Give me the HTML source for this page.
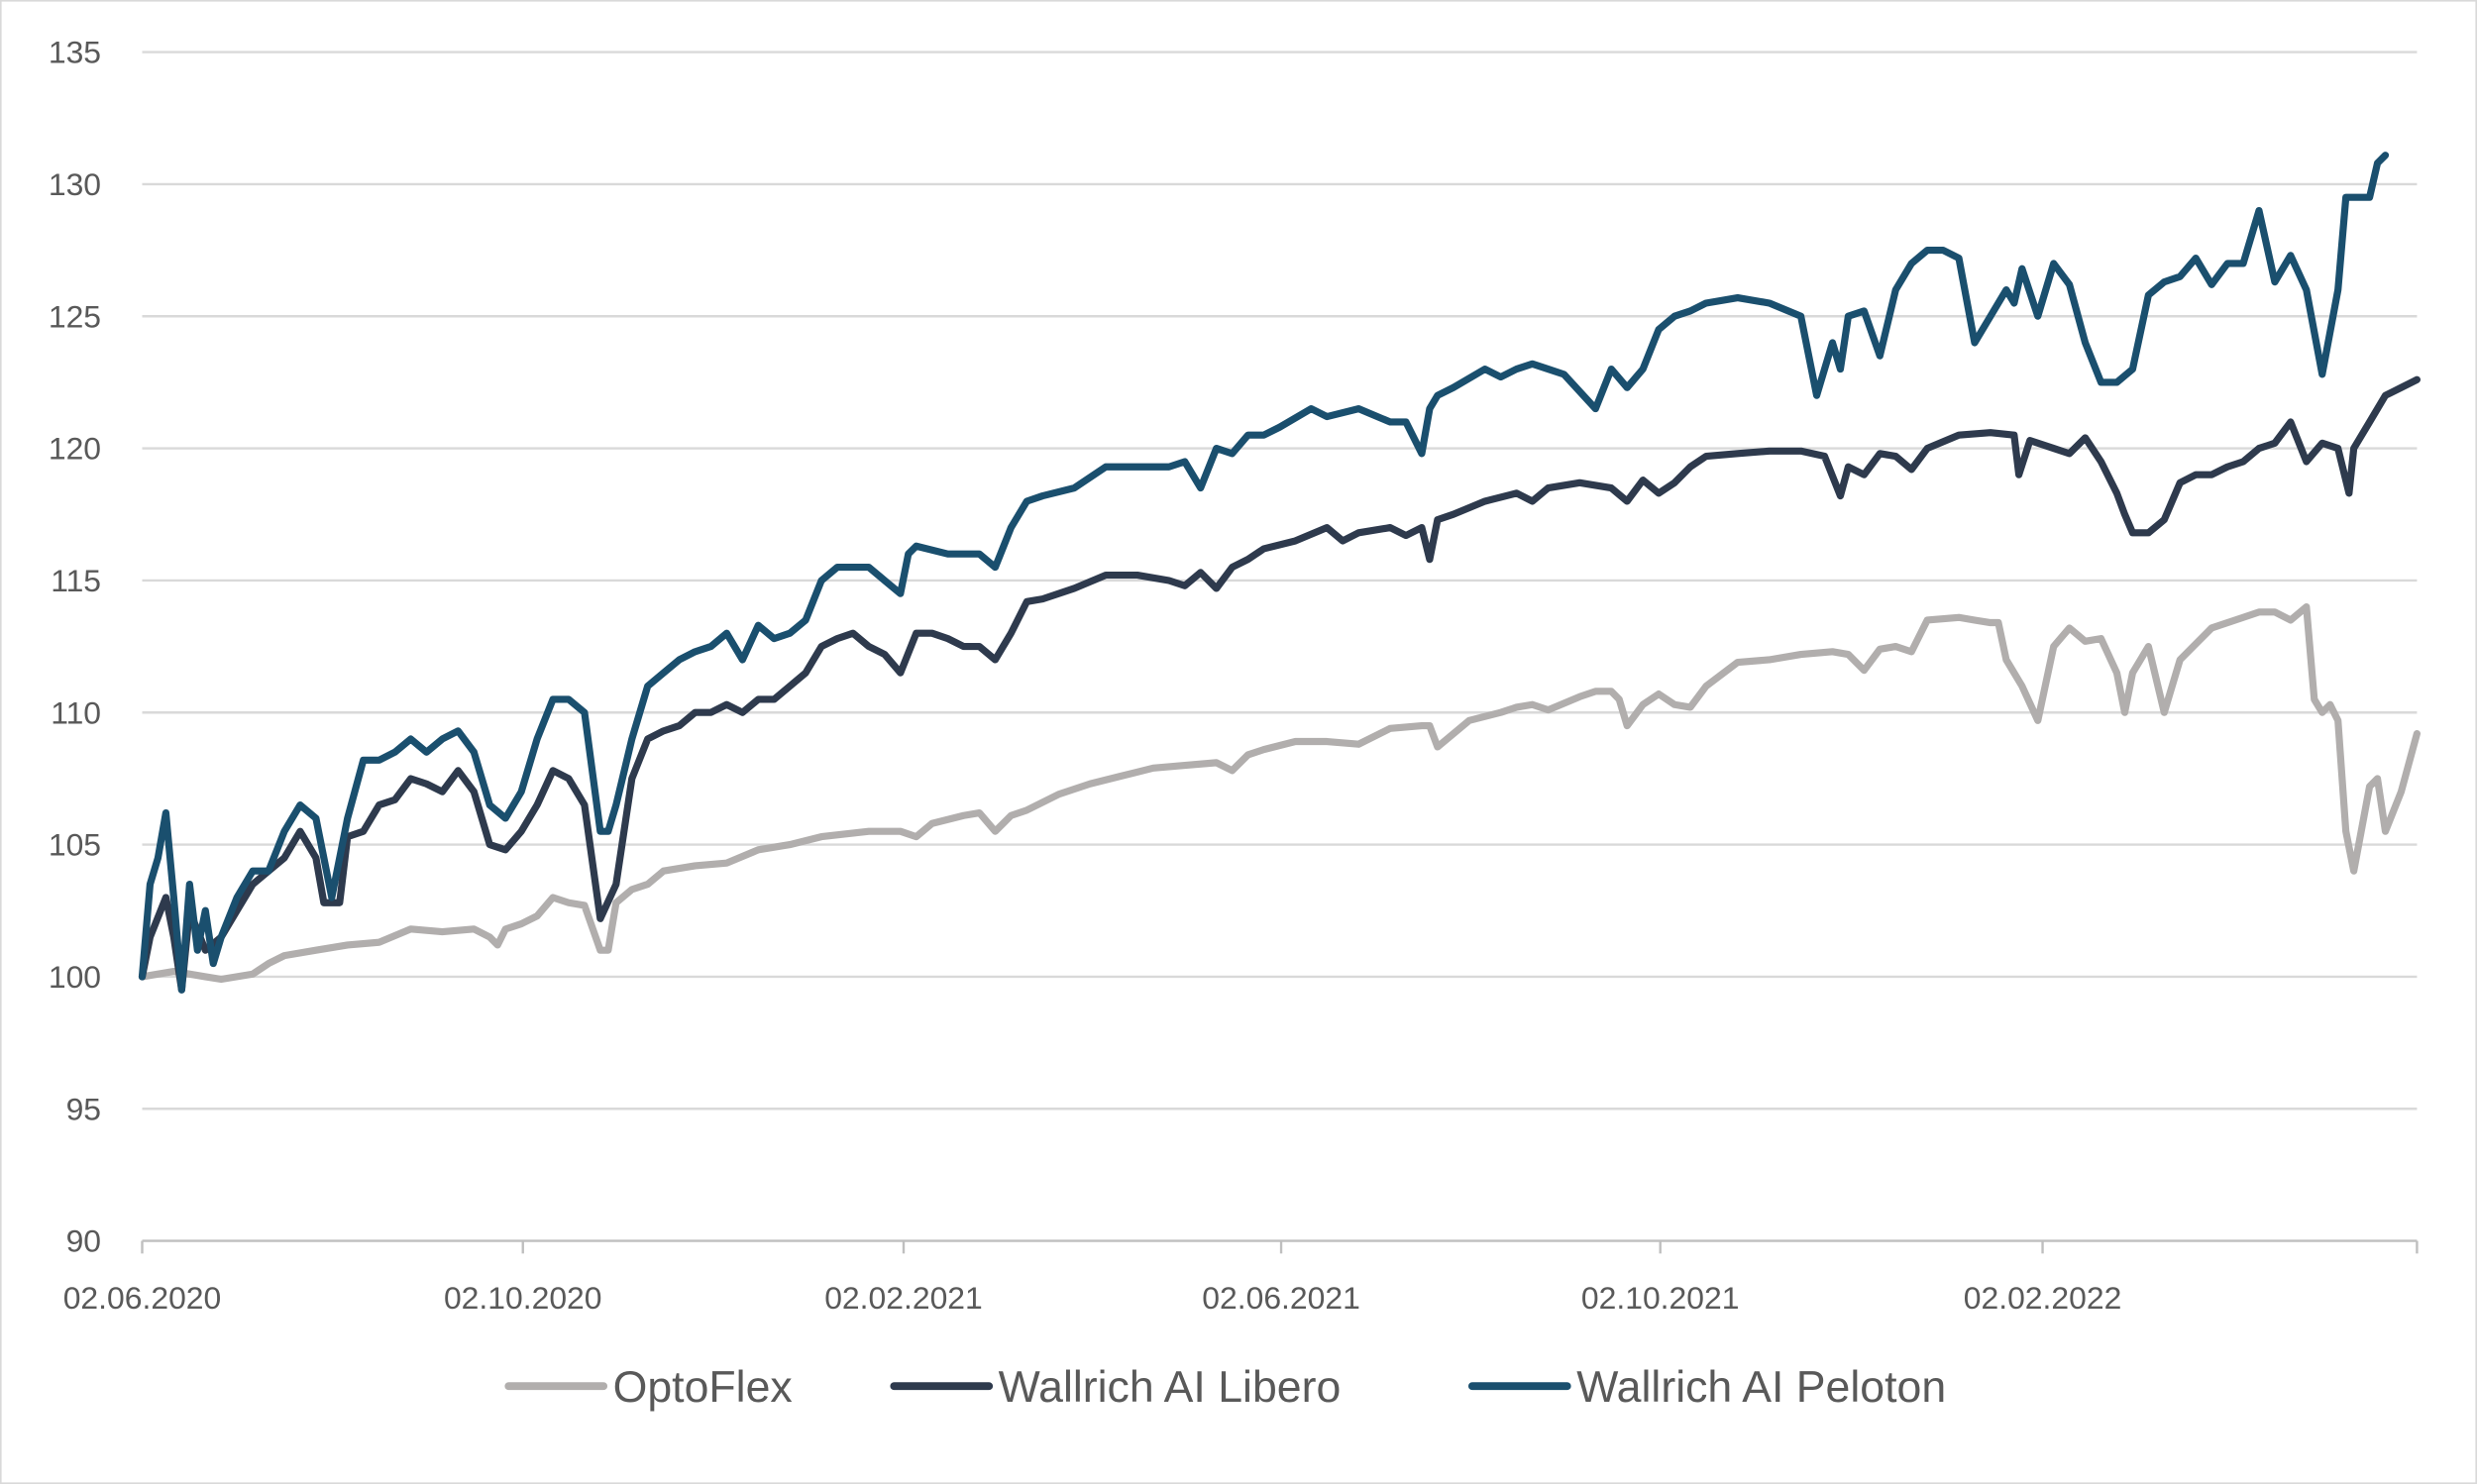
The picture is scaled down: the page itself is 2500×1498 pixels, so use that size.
<!DOCTYPE html>
<html><head><meta charset="utf-8"><style>
html,body{margin:0;padding:0;background:#fff;}
svg{display:block;}
text{font-family:"Liberation Sans",sans-serif;}
</style></head><body>
<svg id="chart" width="2500" height="1498" viewBox="0 0 1568 940" preserveAspectRatio="none" xmlns="http://www.w3.org/2000/svg">
<rect x="0.5" y="0.5" width="1567" height="939" fill="#fff" stroke="#d9d9d9" stroke-width="1"/>
<g id="grid"></g>
<g id="yticks"></g>
<g id="xaxis"></g>
<g id="series"></g>
<g id="legend"></g>
</svg>
<script>
// x in "days" since 02.06.2020 (approx), domain 0..720
const xTickPos = [0, 120.5, 241, 360.5, 480.5, 601.5];
const xTickLabels = ["02.06.2020","02.10.2020","02.02.2021","02.06.2021","02.10.2021","02.02.2022"];
const yTicks = [90,95,100,105,110,115,120,125,130,135];
const seriesNames = ["OptoFlex","Wallrich AI Libero","Wallrich AI Peloton"];
const seriesColors = ["#b1aead","#2e3a4d","#1a4f6e"];

const pelotonT = [0,2.5,5,7.5,10,12.5,15,17.5,20,22.5,25,30,35,40,45,50,55,60,65,70,75,80,85,90,95,100,105,110,115,120,125,130,135,140,145,147.5,150,155,160,165,170,175,180,185,190,195,200,205,210,215,220,225,230,235,240,242.5,245,255,265,270,275,280,285,295,305,315,325,330,335,340,345,350,355,360,370,375,385,395,400,405,407.5,410,415,425,430,435,440,445,450,460,465,470,475,480,485,490,495,505,515,525,530,535,537.5,540,545,550,555,560,565,570,575,580,590,592.5,595,600,605,610,615,620,625,630,635,640,645,650,655,660,665,670,675,680,685,690,695,697.5,700,705,707.5,710,715,720];
const pelotonV = [100,103.5,104.5,106.2,103,99.5,103.5,101,102.5,100.5,101.5,103,104,104,105.5,106.5,106,103,106,108.2,108.2,108.5,109,108.5,109,109.3,108.5,106.5,106,107,109,110.5,110.5,110,105.5,105.5,106.5,109,111,111.5,112,112.3,112.5,113,112,113.3,112.8,113,113.5,115,115.5,115.5,115.5,115,114.5,116,116.3,116,116,115.5,117,118,118.2,118.5,119.3,119.3,119.3,119.5,118.5,120,119.8,120.5,120.5,120.8,121.5,121.2,121.5,121,121,119.8,121.5,122,122.3,123,122.7,123,123.2,123,122.8,121.5,123,122.3,123,124.5,125,125.2,125.5,125.7,125.5,125,122,124,123,125,125.2,123.5,126,127,127.5,127.5,127.2,124,126,125.5,126.8,125,127,126.2,124,122.5,122.5,123,125.8,126.3,126.5,127.2,126.2,127,127,129,126.3,127.3,126,122.8,126,129.5,129.5,129.5,130.8,131.1];

const liberoT = [0,2.5,7.5,10,12.5,15,20,25,30,35,40,45,50,55,57.5,62.5,65,70,75,80,85,90,95,100,105,110,115,120,125,130,135,140,145,150,155,160,165,170,175,180,185,190,195,200,205,210,215,220,225,230,235,240,245,250,255,260,265,270,275,280,285,295,305,315,325,330,335,340,345,350,355,365,375,380,385,395,400,405,407.5,410,415,425,435,440,445,455,465,470,475,480,485,490,495,505,515,525,532.5,537.5,540,545,550,555,560,565,575,585,592.5,594,597.5,605,610,615,620,625,627.5,630,635,640,645,650,655,660,665,670,675,680,685,690,695,698.5,700,705,710,715,720];
const liberoV = [100,101.5,103,101.5,99.5,102.5,101,101.5,102.5,103.5,104,104.5,105.5,104.5,102.8,102.8,105.3,105.5,106.5,106.7,107.5,107.3,107,107.8,107,105,104.8,105.5,106.5,107.8,107.5,106.5,102.2,103.5,107.5,109,109.3,109.5,110,110,110.3,110,110.5,110.5,111,111.5,112.5,112.8,113,112.5,112.2,111.5,113,113,112.8,112.5,112.5,112,113,114.2,114.3,114.7,115.2,115.2,115,114.8,115.3,114.7,115.5,115.8,116.2,116.5,117,116.5,116.8,117,116.7,117,115.8,117.3,117.5,118,118.3,118,118.5,118.7,118.5,118,118.8,118.3,118.7,119.3,119.7,119.8,119.9,119.9,119.7,118.2,119.3,119,119.8,119.7,119.2,120,120.5,120.6,120.5,119,120.3,120,119.8,120.4,119.5,118.3,117.5,116.8,116.8,117.3,118.7,119,119,119.3,119.5,120,120.2,121,119.5,120.2,120,118.3,120,121,122,122.3,122.6];

const optoT = [0,10,20,25,35,40,45,55,65,75,85,95,105,110,112.5,115,120,125,130,135,140,145,147.5,150,155,160,165,175,185,195,205,215,230,235,240,245,250,260,265,270,275,280,290,300,310,320,330,340,345,350,355,365,375,385,395,405,407.5,410,420,430,435,440,445,455,460,465,467.5,470,475,480,485,490,495,505,515,525,535,540,545,550,555,560,565,575,580,585,587.5,590,595,600,605,610,615,620,625,627.5,630,635,640,645,655,665,670,675,680,685,687.5,690,692.5,695,697.5,700,705,707.5,710,715,720];
const optoV = [100,100.2,100,99.9,100.1,100.5,100.8,101,101.2,101.3,101.8,101.7,101.8,101.5,101.2,101.8,102,102.3,103,102.8,102.7,101,101,102.8,103.3,103.5,104,104.2,104.3,104.8,105,105.3,105.5,105.5,105.5,105.3,105.8,106.1,106.2,105.5,106.1,106.3,106.9,107.3,107.6,107.9,108,108.1,107.8,108.4,108.6,108.9,108.9,108.8,109.4,109.5,109.5,108.7,109.7,110,110.2,110.3,110.1,110.6,110.8,110.8,110.5,109.5,110.3,110.7,110.3,110.2,111,111.9,112,112.2,112.3,112.2,111.6,112.4,112.5,112.3,113.5,113.6,113.5,113.4,113.4,112,111,109.7,112.5,113.2,112.7,112.8,111.5,110,111.5,112.5,110,112,113.2,113.6,113.8,113.8,113.5,114,110.5,110,110.3,109.7,105.5,104,107.2,107.5,105.5,107,109.2,109.2];

const X0=90, X1=1530, Y135=33, Y90=786;
const xDomain=[0,720];
function xs(t){return X0+(t-xDomain[0])/(xDomain[1]-xDomain[0])*(X1-X0);}
function ys(v){return Y90-(v-90)/(135-90)*(Y90-Y135);}
const NS="http://www.w3.org/2000/svg";
function mk(tag,attrs,parent){const e=document.createElementNS(NS,tag);for(const k in attrs)e.setAttribute(k,attrs[k]);parent.appendChild(e);return e;}

const grid=document.getElementById('grid'), yt=document.getElementById('yticks');
yTicks.forEach(v=>{
  if(v!==90){
    const l=mk('line',{x1:X0,x2:X1,y1:ys(v),y2:ys(v),stroke:'#d9d9d9','stroke-width':1.5},grid);
    
    
  }
  const t=mk('text',{x:64,y:ys(v)+7,'text-anchor':'end','font-size':20,fill:'#595959'},yt);
  t.textContent=v;
  
  
});
const xa=document.getElementById('xaxis');
const ax=mk('line',{x1:X0,x2:X1,y1:Y90,y2:Y90,stroke:'#bfbfbf','stroke-width':1.5},xa);


xTickPos.concat([720]).forEach(p=>{
  const tk=mk('line',{x1:xs(p),x2:xs(p),y1:Y90,y2:Y90+8,stroke:'#bfbfbf','stroke-width':1.5},xa);
  
  
});
xTickPos.forEach((p,i)=>{
  const t=mk('text',{x:xs(p),y:829,'text-anchor':'middle','font-size':20,fill:'#595959'},xa);
  t.textContent=xTickLabels[i];
  
  
});
const sg=document.getElementById('series');
const allT=[optoT,liberoT,pelotonT], allV=[optoV,liberoV,pelotonV];
allT.forEach((T,i)=>{
  const d=T.map((t,j)=>(j?'L':'M')+xs(t).toFixed(1)+' '+ys(allV[i][j]).toFixed(1)).join(' ');
  const p=mk('path',{d:d,fill:'none',stroke:seriesColors[i],'stroke-width':4.5,'stroke-linejoin':'round','stroke-linecap':'round'},sg);
  
  
});
const lg=document.getElementById('legend');
const legX=[322,566,932];
seriesNames.forEach((n,i)=>{
  const g=mk('g',{},lg);
  
  
  mk('line',{x1:legX[i],x2:legX[i]+60,y1:878,y2:878,stroke:seriesColors[i],'stroke-width':5,'stroke-linecap':'round'},g);
  const t=mk('text',{x:legX[i]+66,y:888,'font-size':28,fill:'#595959'},g);
  t.textContent=n;
});
</script>
</body></html>
